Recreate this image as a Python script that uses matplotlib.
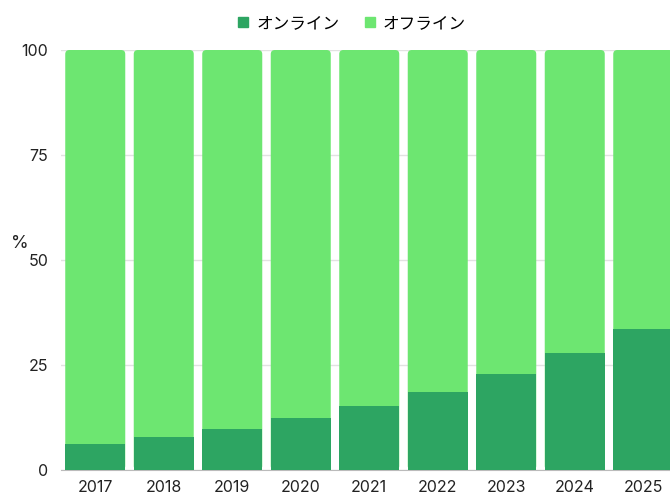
import matplotlib.pyplot as plt
from matplotlib.patches import FancyBboxPatch
from matplotlib.lines import Line2D

plt.rcParams['font.family'] = ['Inter', 'Noto Sans CJK JP', 'DejaVu Sans']

years = ['2017', '2018', '2019', '2020', '2021', '2022', '2023', '2024', '2025']
online = [6.2, 7.9, 9.8, 12.4, 15.2, 18.6, 22.9, 27.9, 33.6]
offline = [100 - v for v in online]
labels = ['オンライン', 'オフライン']
colors = ['#2da562', '#6de671']

fig = plt.figure(figsize=(6.7, 4.95), dpi=100)
ax = fig.add_axes([61 / 670, 25 / 495, 616.5 / 670, 420 / 495])

x = list(range(len(years)))
width = 0.876

# offline bars with rounded tops, drawn full height then covered by online bars
bars = ax.bar(x, [o + n for o, n in zip(offline, online)], width=width, color=colors[1], zorder=2)
for b in bars:
    b.set_visible(False)
    p = FancyBboxPatch((b.get_x(), 0), b.get_width(), b.get_height(),
                       boxstyle='round,pad=0,rounding_size=0.06',
                       mutation_aspect=16.4, facecolor=colors[1], edgecolor='none', zorder=2)
    ax.add_patch(p)
ax.bar(x, online, width=width, color=colors[0], zorder=3)

ax.set_xlim(-0.5, len(years) - 0.5)
ax.set_ylim(0, 100)
ax.set_yticks([0, 25, 50, 75, 100])
ax.set_xticks(x)
ax.set_xticklabels(years)
ax.tick_params(length=0, labelsize=11.5, colors='#222222', pad=7)
ax.tick_params(axis='y', pad=9)
ax.grid(axis='y', color='#e2e2e2', linewidth=1, zorder=0)
for s in ['top', 'right', 'left']:
    ax.spines[s].set_visible(False)
ax.spines['bottom'].set_color('#bbbbbb')

fig.text(20 / 670, 1 - 243 / 495, '%', fontsize=13, color='#222222', ha='center', va='center')

handles = [Line2D([], [], marker='s', linestyle='none', markersize=7, color=c) for c in colors]
fig.legend(handles, labels, loc='upper center', bbox_to_anchor=(0.523, 1.0), ncol=2,
           frameon=False, handletextpad=0.3, columnspacing=1.3, handlelength=1.0,
           prop={'family': ['Noto Sans CJK JP', 'DejaVu Sans'], 'size': 12})

fig.savefig('out.png', dpi=100)
